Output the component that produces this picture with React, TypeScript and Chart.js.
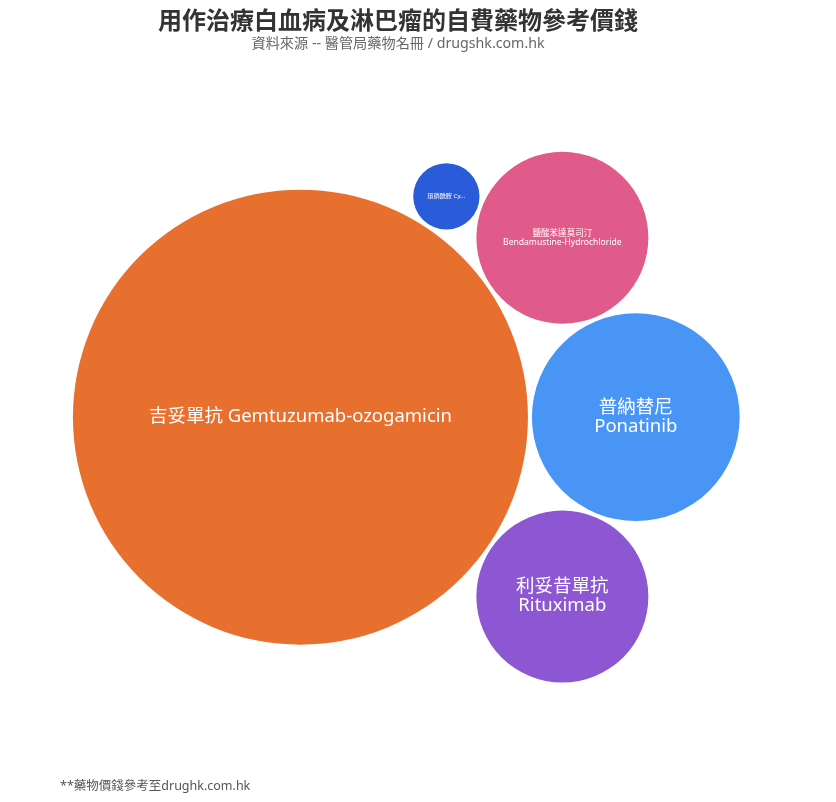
import React, { useEffect, useRef } from "react";
import { Chart, registerables } from "chart.js";

Chart.register(...registerables);

const TITLE = "用作治療白血病及淋巴瘤的自費藥物參考價錢";
const SUBTITLE = "資料來源 -- 醫管局藥物名冊 / drugshk.com.hk";
const CREDITS = "**藥物價錢參考至drughk.com.hk";

const namesZh = ["吉妥單抗", "普納替尼", "鹽酸苯達莫司汀", "利妥昔單抗", "環磷酰胺"];
const namesEn = ["Gemtuzumab-ozogamicin", "Ponatinib", "Bendamustine-Hydrochloride", "Rituximab", "Cyclophosphamide"];
const prices = [51800, 10800, 7400, 7400, 1100];
const colors = ["#E8702F", "#4895F5", "#E05B8A", "#8D56D3", "#2A5BD9"];

const MAX_RADIUS = 227.5;
const GAP = 4;
const FONT = "'Noto Sans', 'Noto Sans CJK TC', sans-serif";

type P = { x: number; y: number };

function packCircles(radii: number[], gap: number): P[] {
  const order = radii.map((_, i) => i).sort((a, b) => radii[b] - radii[a]);
  const pos: P[] = new Array(radii.length);
  const placed: number[] = [];
  for (const i of order) {
    const r = radii[i];
    if (placed.length === 0) {
      pos[i] = { x: 0, y: 0 };
    } else if (placed.length === 1) {
      const j = placed[0];
      pos[i] = { x: pos[j].x + radii[j] + r + gap, y: pos[j].y };
    } else {
      let A = 0, cx = 0, cy = 0;
      for (const j of placed) {
        const a = radii[j] * radii[j];
        A += a; cx += a * pos[j].x; cy += a * pos[j].y;
      }
      cx /= A; cy /= A;
      let best: P | null = null;
      let bestScore = Infinity;
      for (let m = 0; m < placed.length; m++) {
        for (let n = m + 1; n < placed.length; n++) {
          const a = placed[m], b = placed[n];
          const da = radii[a] + r + gap, db = radii[b] + r + gap;
          const dx = pos[b].x - pos[a].x, dy = pos[b].y - pos[a].y;
          const d = Math.hypot(dx, dy);
          if (d === 0 || d > da + db || d < Math.abs(da - db)) continue;
          const l = (da * da - db * db + d * d) / (2 * d);
          const h = Math.sqrt(Math.max(0, da * da - l * l));
          const mx = pos[a].x + (l * dx) / d, my = pos[a].y + (l * dy) / d;
          const cands: P[] = [
            { x: mx + (h * dy) / d, y: my - (h * dx) / d },
            { x: mx - (h * dy) / d, y: my + (h * dx) / d },
          ];
          for (const c of cands) {
            let ok = true;
            for (const k of placed) {
              if (Math.hypot(c.x - pos[k].x, c.y - pos[k].y) < radii[k] + r + gap - 1e-6) { ok = false; break; }
            }
            if (!ok) continue;
            const score = Math.hypot(c.x - cx, c.y - cy) + c.y * 1e-6;
            if (score < bestScore) { bestScore = score; best = c; }
          }
        }
      }
      pos[i] = best || { x: 0, y: 0 };
    }
    placed.push(i);
  }
  let A = 0, cx = 0, cy = 0;
  radii.forEach((r, i) => { const a = r * r; A += a; cx += a * pos[i].x; cy += a * pos[i].y; });
  cx /= A; cy /= A;
  return pos.map((p) => ({ x: p.x - cx, y: p.y - cy }));
}

const pixelScalePlugin = {
  id: "pixelScale",
  afterLayout(chart: any) {
    const a = chart.chartArea;
    const xs = chart.scales.x, ys = chart.scales.y;
    xs.min = -(a.right - a.left) / 2; xs.max = (a.right - a.left) / 2;
    ys.min = -(a.bottom - a.top) / 2; ys.max = (a.bottom - a.top) / 2;
    xs.configure(); ys.configure();
  },
};

function fitLabel(ctx: CanvasRenderingContext2D, zh: string, en: string, r: number) {
  const maxW = 1.38 * r;
  const maxFont = 18.5;
  const w = (t: string, f: number) => { ctx.font = `${f}px ${FONT}`; return ctx.measureText(t).width; };
  const one = `${zh} ${en}`;
  if (w(one, maxFont) <= maxW) return { lines: [one], font: maxFont };
  const two = Math.max(w(zh, maxFont), w(en, maxFont));
  if (two <= maxW) return { lines: [zh, en], font: maxFont };
  if (r >= 50) return { lines: [zh, en], font: (maxFont * maxW) / two };
  const f = 6.1;
  const lim = 1.2 * r;
  let t = one;
  if (w(t, f) > lim) {
    while (t.length > 1 && w(t + "...", f) > lim) t = t.slice(0, -1);
    t = t.trimEnd() + "...";
  }
  return { lines: [t], font: f };
}

const labelPlugin = {
  id: "bubbleLabels",
  afterDatasetsDraw(chart: any) {
    const ctx: CanvasRenderingContext2D = chart.ctx;
    ctx.save();
    chart.data.datasets.forEach((ds: any, i: number) => {
      const meta = chart.getDatasetMeta(i);
      const el = meta.data[0];
      if (!el) return;
      const r = ds.data[0].r;
      const { lines, font } = fitLabel(ctx, namesZh[i], namesEn[i], r);
      ctx.font = `${font}px ${FONT}`;
      ctx.fillStyle = "#ffffff";
      ctx.textAlign = "center";
      ctx.textBaseline = "middle";
      const lh = font * 1.02;
      const y0 = el.y - ((lines.length - 1) * lh) / 2;
      lines.forEach((t, k) => ctx.fillText(t, el.x, y0 + k * lh));
    });
    ctx.restore();
  },
};

const creditsPlugin = {
  id: "credits",
  afterDraw(chart: any) {
    const ctx: CanvasRenderingContext2D = chart.ctx;
    ctx.save();
    ctx.font = `12.5px ${FONT}`;
    ctx.fillStyle = "#555555";
    ctx.textAlign = "left";
    ctx.textBaseline = "middle";
    ctx.fillText(CREDITS, 52, chart.height - 8);
    ctx.restore();
  },
};

export default function App() {
  const ref = useRef<HTMLCanvasElement | null>(null);
  useEffect(() => {
    if (!ref.current) return;
    const vmax = Math.max(...prices);
    const radii = prices.map((v) => MAX_RADIUS * Math.sqrt(v / vmax));
    const pos = packCircles(radii, GAP);
    const datasets = prices.map((v, i) => ({
      label: `${namesZh[i]} ${namesEn[i]}`,
      data: [{ x: pos[i].x, y: pos[i].y, r: radii[i], v }],
      backgroundColor: colors[i],
      borderColor: colors[i],
      borderWidth: 0,
      hoverRadius: 0,
      clip: false,
    }));
    const chart = new Chart(ref.current, {
      type: "bubble",
      data: { datasets },
      options: {
        animation: false,
        responsive: true,
        maintainAspectRatio: false,
        layout: { autoPadding: false, padding: { left: 0, right: 0, top: 0, bottom: 26.4 } },
        scales: {
          x: { display: false, min: -390, max: 390 },
          y: { display: false, reverse: true, min: -353.6, max: 353.6 },
        },
        plugins: {
          legend: { display: false },
          tooltip: { enabled: false },
          title: {
            display: true,
            text: TITLE,
            color: "#333333",
            font: { family: FONT, size: 24, weight: "bold", lineHeight: 1.1 },
            padding: { top: 1, bottom: 0 },
          },
          subtitle: {
            display: true,
            text: SUBTITLE,
            color: "#666666",
            font: { family: FONT, size: 14.2, lineHeight: 1.0 },
            padding: { top: 1.5, bottom: 9.5 },
          },
        },
      } as any,
      plugins: [pixelScalePlugin, labelPlugin, creditsPlugin],
    });
    return () => chart.destroy();
  }, []);
  return (
    <div style={{ width: 780, height: 786, position: "relative" }}>
      <canvas ref={ref} />
    </div>
  );
}
